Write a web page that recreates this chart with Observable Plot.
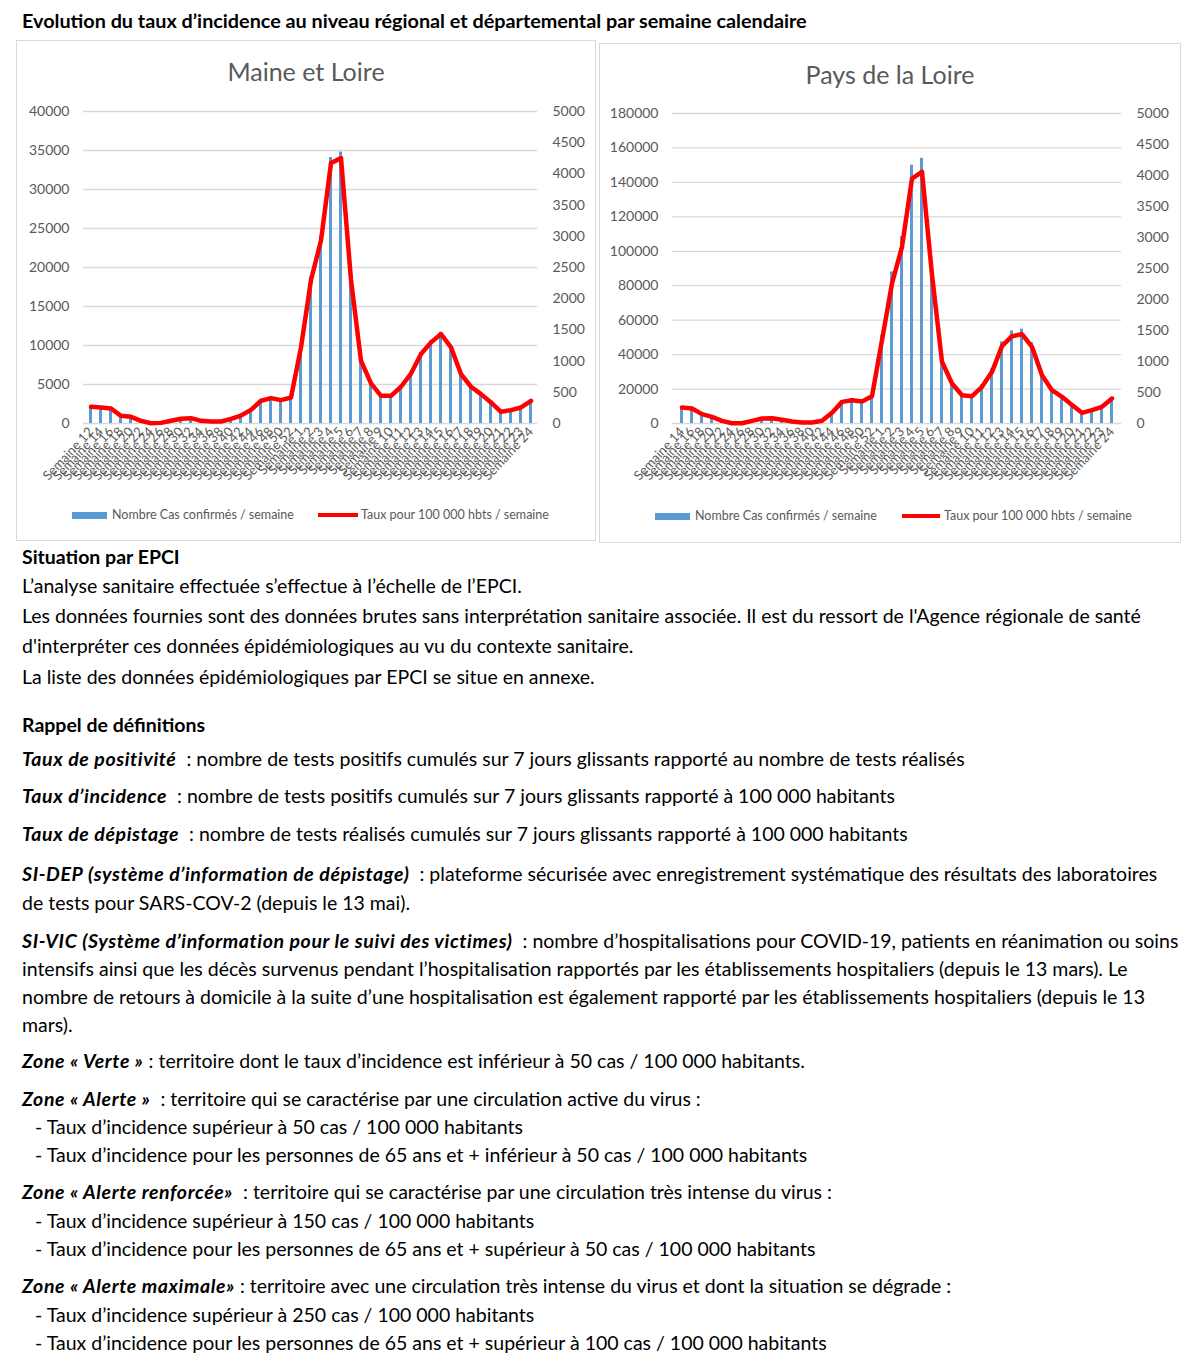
<!DOCTYPE html>
<html lang="fr">
<head>
<meta charset="utf-8">
<script src="https://cdn.jsdelivr.net/npm/d3@7"></script>
<script src="https://cdn.jsdelivr.net/npm/@observablehq/plot@0.6"></script>
<style>
  html, body { margin: 0; padding: 0; background: #fff; }
  body { width: 1200px; height: 1359px; position: relative; overflow: hidden; font-family: Lato, "Open Sans", sans-serif; color: #000; }
  .abs { position: absolute; white-space: nowrap; }
  .box { position: absolute; border: 1px solid #d9d9d9; box-sizing: border-box; }
  .ctitle { position: absolute; text-align: center; font-size: 25px; color: #595959; line-height: 30px; }
  .leg { position: absolute; font-size: 12.5px; color: #595959; line-height: 14px; white-space: nowrap; }
  .txt { position: absolute; left: 22px; font-size: 19.5px; line-height: 24px; white-space: nowrap; }
  .bi { font-weight: bold; font-style: italic; letter-spacing: 0.6px; }
  .b { font-weight: bold; }
  .ind { left: 35px; }
</style>
</head>
<body>
<div class="abs" style="left:22px;top:7px;font-size:19.8px;font-weight:bold;line-height:26px;">Evolution du taux d’incidence au niveau régional et départemental par semaine calendaire</div>

<div class="box" style="left:16px;top:40px;width:580px;height:501px;"></div>
<div class="box" style="left:599px;top:43px;width:582px;height:500px;"></div>
<div class="ctitle" style="left:16px;top:56px;width:580px;">Maine et Loire</div>
<div class="ctitle" style="left:599px;top:59px;width:582px;">Pays de la Loire</div>
<div id="chartMaine" style="position:absolute;left:16px;top:90px;"></div>
<div id="chartPays" style="position:absolute;left:599px;top:90px;"></div>

<div style="position:absolute;left:72px;top:512px;width:35px;height:7px;background:#5b9bd5;"></div>
<div class="leg" style="left:112px;top:508px;">Nombre Cas confirmés / semaine</div>
<div style="position:absolute;left:318px;top:513px;width:40px;height:4px;background:#ff0000;"></div>
<div class="leg" style="left:361px;top:508px;">Taux pour 100 000 hbts / semaine</div>
<div style="position:absolute;left:655px;top:513px;width:35px;height:7px;background:#5b9bd5;"></div>
<div class="leg" style="left:695px;top:509px;">Nombre Cas confirmés / semaine</div>
<div style="position:absolute;left:902px;top:514px;width:38px;height:4px;background:#ff0000;"></div>
<div class="leg" style="left:944px;top:509px;">Taux pour 100 000 hbts / semaine</div>

<div class="txt b" style="top:545px;">Situation par EPCI</div>
<div class="txt" style="top:574px;">L’analyse sanitaire effectuée s’effectue à l’échelle de l’EPCI.</div>
<div class="txt" style="top:604px;">Les données fournies sont des données brutes sans interprétation sanitaire associée. Il est du ressort de l'Agence régionale de santé</div>
<div class="txt" style="top:634px;">d'interpréter ces données épidémiologiques au vu du contexte sanitaire.</div>
<div class="txt" style="top:665px;">La liste des données épidémiologiques par EPCI se situe en annexe.</div>

<div class="txt b" style="top:713px;">Rappel de définitions</div>
<div class="txt" style="top:747px;"><span class="bi">Taux de positivité</span>&nbsp; : nombre de tests positifs cumulés sur 7 jours glissants rapporté au nombre de tests réalisés</div>
<div class="txt" style="top:784px;"><span class="bi">Taux d’incidence</span>&nbsp; : nombre de tests positifs cumulés sur 7 jours glissants rapporté à 100 000 habitants</div>
<div class="txt" style="top:822px;"><span class="bi">Taux de dépistage</span>&nbsp; : nombre de tests réalisés cumulés sur 7 jours glissants rapporté à 100 000 habitants</div>
<div class="txt" style="top:862px;"><span class="bi">SI-DEP (système d’information de dépistage)</span>&nbsp; : plateforme sécurisée avec enregistrement systématique des résultats des laboratoires</div>
<div class="txt" style="top:891px;">de tests pour SARS-COV-2 (depuis le 13 mai).</div>
<div class="txt" style="top:929px;"><span class="bi">SI-VIC (Système d’information pour le suivi des victimes)</span>&nbsp; : nombre d’hospitalisations pour COVID-19, patients en réanimation ou soins</div>
<div class="txt" style="top:957px;">intensifs ainsi que les décès survenus pendant l’hospitalisation rapportés par les établissements hospitaliers (depuis le 13 mars). Le</div>
<div class="txt" style="top:985px;">nombre de retours à domicile à la suite d’une hospitalisation est également rapporté par les établissements hospitaliers (depuis le 13</div>
<div class="txt" style="top:1013px;">mars).</div>
<div class="txt" style="top:1049px;"><span class="bi">Zone « Verte »</span> : territoire dont le taux d’incidence est inférieur à 50 cas / 100 000 habitants.</div>
<div class="txt" style="top:1087px;"><span class="bi">Zone « Alerte »</span>&nbsp; : territoire qui se caractérise par une circulation active du virus :</div>
<div class="txt ind" style="top:1115px;">- Taux d’incidence supérieur à 50 cas / 100 000 habitants</div>
<div class="txt ind" style="top:1143px;">- Taux d’incidence pour les personnes de 65 ans et + inférieur à 50 cas / 100 000 habitants</div>
<div class="txt" style="top:1180px;"><span class="bi">Zone « Alerte renforcée»</span>&nbsp; : territoire qui se caractérise par une circulation très intense du virus :</div>
<div class="txt ind" style="top:1209px;">- Taux d’incidence supérieur à 150 cas / 100 000 habitants</div>
<div class="txt ind" style="top:1237px;">- Taux d’incidence pour les personnes de 65 ans et + supérieur à 50 cas / 100 000 habitants</div>
<div class="txt" style="top:1274px;"><span class="bi">Zone « Alerte maximale»</span> : territoire avec une circulation très intense du virus et dont la situation se dégrade :</div>
<div class="txt ind" style="top:1303px;">- Taux d’incidence supérieur à 250 cas / 100 000 habitants</div>
<div class="txt ind" style="top:1331px;">- Taux d’incidence pour les personnes de 65 ans et + supérieur à 100 cas / 100 000 habitants</div>

<script>
// ---- Maine et Loire ----
const maineWeeks = ["Semaine 12","Semaine 14","Semaine 16","Semaine 18","Semaine 20","Semaine 22","Semaine 24","Semaine 26","Semaine 28","Semaine 30","Semaine 32","Semaine 34","Semaine 36","Semaine 38","Semaine 40","Semaine 42","Semaine 44","Semaine 46","Semaine 48","Semaine 50","Semaine 52",
  "Semaine 1","Semaine 2","Semaine 3","Semaine 4","Semaine 5","Semaine 6","Semaine 7","Semaine 8","Semaine 9","Semaine 10","Semaine 11","Semaine 12 ","Semaine 13","Semaine 14 ","Semaine 15","Semaine 16 ","Semaine 17","Semaine 18 ","Semaine 19","Semaine 20 ","Semaine 21","Semaine 22 ","Semaine 23","Semaine 24 "];
const maineCases = [2150,2100,1950,1000,880,350,50,90,350,620,700,350,270,260,610,1050,1800,3000,3350,3100,3400,
  10000,18800,24000,34100,34800,18800,8200,5300,3650,3650,4800,6500,9100,10600,11700,10000,6500,4800,3850,2750,1550,1750,2100,3000];
const maineRates = [267,257,241,123,107,43,5,10,43,75,86,43,32,32,75,128,219,364,407,375,417,
  1220,2300,2932,4173,4253,2300,1006,642,444,444,589,800,1113,1300,1434,1220,792,589,471,337,187,214,257,364];

// ---- Pays de la Loire ----
const paysWeeks = ["Semaine 14","Semaine 16","Semaine 18","Semaine 20","Semaine 22","Semaine 24","Semaine 26","Semaine 28","Semaine 30","Semaine 32","Semaine 34","Semaine 36","Semaine 38","Semaine 40","Semaine 42","Semaine 44","Semaine 46","Semaine 48","Semaine 50","Semaine 52",
  "Semaine 1","Semaine 2","Semaine 3","Semaine 4","Semaine 5","Semaine 6","Semaine 7","Semaine 8","Semaine 9","Semaine 10","Semaine 11","Semaine 12","Semaine 13","Semaine 14 ","Semaine 15","Semaine 16 ","Semaine 17","Semaine 18 ","Semaine 19","Semaine 20 ","Semaine 21","Semaine 22 ","Semaine 23","Semaine 24 "];
const paysCases = [9800,9200,5800,4100,1600,200,200,1600,3100,3300,2300,1200,600,600,1600,6600,13300,14300,13500,16800,
  51000,88000,108500,150000,154000,91000,38000,24500,17400,16800,22500,31700,47400,53800,54800,47000,29600,20400,16300,11400,6500,8200,10200,15300];
const paysRates = [258,242,151,108,43,5,5,43,81,86,59,32,16,16,43,172,349,376,355,441,
  1344,2258,2850,3951,4059,2400,995,645,457,441,591,833,1247,1408,1441,1237,780,538,430,300,172,215,269,403];

const leftTicksMaine = [0,5000,10000,15000,20000,25000,30000,35000,40000];
const leftTicksPays = [0,20000,40000,60000,80000,100000,120000,140000,160000,180000];
const rightTicks = [0,500,1000,1500,2000,2500,3000,3500,4000,4500,5000];

function makeChart({weeks, cases, rates, yMax, leftTicks, ratio, width, height, mL, mR, mT, mB}) {
  const data = weeks.map((w, i) => ({week: w, cases: cases[i], rate: rates[i]}));
  return Plot.plot({
    width, height,
    marginLeft: mL, marginRight: mR, marginTop: mT, marginBottom: mB,
    style: {fontFamily: "Lato, sans-serif", fontSize: "14px", color: "#595959", background: "transparent", overflow: "visible"},
    x: {type: "band", domain: weeks, paddingInner: 0.7, paddingOuter: 0.35, label: null},
    y: {domain: [0, yMax], label: null},
    marks: [
      Plot.gridY(leftTicks, {stroke: "#d9d9d9", strokeOpacity: 1, strokeWidth: 1.3}),
      Plot.barY(data, {x: "week", y: "cases", fill: "#5b9bd5"}),
      Plot.line(data, {x: "week", y: d => d.rate * ratio, stroke: "#ff0000", strokeWidth: 4.5, strokeLinejoin: "round", strokeLinecap: "round"}),
      Plot.axisY(leftTicks, {anchor: "left", tickSize: 0, tickPadding: 14, tickFormat: d => String(d), label: null, fontSize: 14}),
      Plot.axisY(rightTicks.map(v => v * ratio), {anchor: "right", tickSize: 0, tickPadding: 15, tickFormat: d => String(Math.round(d / ratio)), label: null, fontSize: 14}),
      Plot.axisX({tickRotate: -47, tickSize: 0, tickPadding: 6, fontSize: 13, label: null, tickFormat: d => d.trim()})
    ]
  });
}

document.getElementById("chartMaine").append(makeChart({
  weeks: maineWeeks, cases: maineCases, rates: maineRates, yMax: 40000, leftTicks: leftTicksMaine, ratio: 8,
  width: 580, height: 410, mL: 67, mR: 59, mT: 21, mB: 77
}));
document.getElementById("chartPays").append(makeChart({
  weeks: paysWeeks, cases: paysCases, rates: paysRates, yMax: 180000, leftTicks: leftTicksPays, ratio: 36,
  width: 582, height: 410, mL: 73, mR: 60, mT: 23, mB: 77
}));
</script>
</body>
</html>
